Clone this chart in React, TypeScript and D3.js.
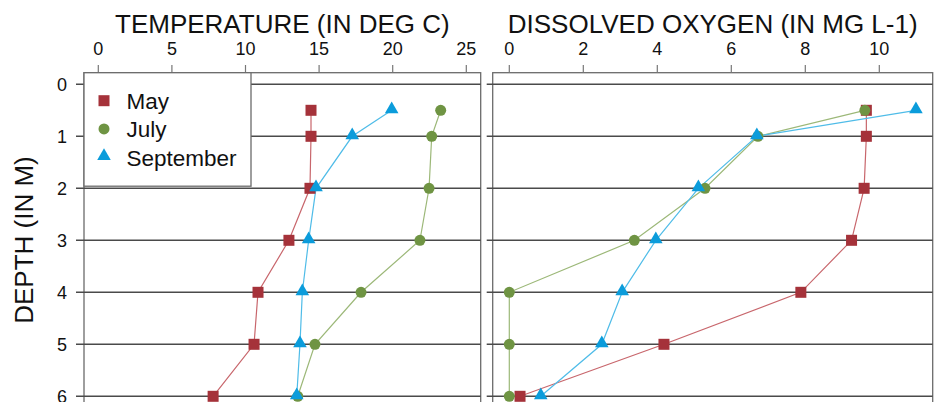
import React, { useEffect, useRef } from "react";
import * as d3 from "d3";

// depths (m) at which samples were taken
const depths = [0.5, 1, 2, 3, 4, 5, 6];

// temperature (deg C)
const tempMay = [14.45, 14.45, 14.38, 12.95, 10.85, 10.58, 7.8];
const tempJuly = [23.26, 22.65, 22.47, 21.85, 17.85, 14.72, 13.55];
const tempSep = [19.93, 17.25, 14.79, 14.29, 13.86, 13.7, 13.48];

// dissolved oxygen (mg/L)
const oxMay = [9.65, 9.65, 9.59, 9.25, 7.88, 4.18, 0.29];
const oxJuly = [9.61, 6.72, 5.29, 3.38, 0, 0, 0];
const oxSep = [10.99, 6.69, 5.11, 3.96, 3.05, 2.5, 0.85];

const depthTicks = [0, 1, 2, 3, 4, 5, 6];
const tempTicks = [0, 5, 10, 15, 20, 25];
const oxTicks = [0, 2, 4, 6, 8, 10];

const seriesNames = ["May", "July", "September"];

const colors: Record<string, string> = {
  May: "#a5323a",
  July: "#6f9443",
  September: "#0b9cdb",
};
const lineColors: Record<string, string> = {
  May: "#c8666c",
  July: "#9cb878",
  September: "#4fbce8",
};

type Pt = { d: number; v: number };

const W = 939;
const H = 402;
const FONT = "'Liberation Sans', Arial, Helvetica, sans-serif";

const App = () => {
  const ref = useRef<SVGSVGElement>(null);

  useEffect(() => {
    const svg = d3.select(ref.current);
    svg.selectAll("*").remove();

    const y = d3.scaleLinear().domain([0, 6]).range([84.3, 396.3]);

    const panels = [
      {
        title: "TEMPERATURE (IN DEG C)",
        left: 84,
        right: 480.7,
        x: d3.scaleLinear().domain([0, 25]).range([98.3, 466.3]),
        ticks: tempTicks,
        series: [tempMay, tempJuly, tempSep],
        yLabels: true,
      },
      {
        title: "DISSOLVED OXYGEN (IN MG L-1)",
        left: 492.7,
        right: 932.7,
        x: d3.scaleLinear().domain([0, 10]).range([509.3, 879.3]),
        ticks: oxTicks,
        series: [oxMay, oxJuly, oxSep],
        yLabels: false,
      },
    ];

    const top = 72.7;
    const bottom = 430;

    panels.forEach((p) => {
      const g = svg.append("g");

      // panel background + border
      g.append("rect")
        .attr("x", p.left)
        .attr("y", top)
        .attr("width", p.right - p.left)
        .attr("height", bottom - top)
        .attr("fill", "#fff")
        .attr("stroke", "#6b6b6b")
        .attr("stroke-width", 1.3);

      // horizontal grid lines at each depth
      g.selectAll(".grid")
        .data(depthTicks)
        .enter()
        .append("line")
        .attr("x1", p.left - (p.yLabels ? 8 : 6))
        .attr("x2", p.right)
        .attr("y1", (d) => y(d))
        .attr("y2", (d) => y(d))
        .attr("stroke", "#4a4a4a")
        .attr("stroke-width", 1.4);

      if (p.yLabels) {
        g.selectAll(".ylab")
          .data(depthTicks)
          .enter()
          .append("text")
          .attr("x", 67)
          .attr("y", (d) => y(d) + 6.5)
          .attr("text-anchor", "end")
          .attr("font-family", FONT)
          .attr("font-size", 18)
          .attr("fill", "#111")
          .text((d) => d);
      }

      // top axis
      g.selectAll(".xtick")
        .data(p.ticks)
        .enter()
        .append("line")
        .attr("x1", (d) => p.x(d))
        .attr("x2", (d) => p.x(d))
        .attr("y1", 65)
        .attr("y2", top)
        .attr("stroke", "#777")
        .attr("stroke-width", 1.2);
      g.selectAll(".xlab")
        .data(p.ticks)
        .enter()
        .append("text")
        .attr("x", (d) => p.x(d))
        .attr("y", 55)
        .attr("text-anchor", "middle")
        .attr("font-family", FONT)
        .attr("font-size", 18)
        .attr("fill", "#111")
        .text((d) => d);

      g.append("text")
        .attr("x", (p.left + p.right) / 2)
        .attr("y", 33)
        .attr("text-anchor", "middle")
        .attr("font-family", FONT)
        .attr("font-size", 26)
        .attr("fill", "#111")
        .text(p.title);

      // series
      p.series.forEach((vals, i) => {
        const name = seriesNames[i];
        const pts: Pt[] = depths.map((d, j) => ({ d, v: vals[j] }));
        const line = d3
          .line<Pt>()
          .x((q) => p.x(q.v))
          .y((q) => y(q.d));
        g.append("path")
          .datum(pts)
          .attr("fill", "none")
          .attr("stroke", lineColors[name])
          .attr("stroke-width", 1.2)
          .attr("d", line);
      });
      p.series.forEach((vals, i) => {
        const name = seriesNames[i];
        const pts: Pt[] = depths.map((d, j) => ({ d, v: vals[j] }));
        drawMarkers(g, pts, name, (q) => p.x(q.v), (q) => y(q.d));
      });
    });

    // legend
    const lg = svg.append("g");
    lg.append("rect")
      .attr("x", 84)
      .attr("y", 72.7)
      .attr("width", 167)
      .attr("height", 113.5)
      .attr("fill", "#fff")
      .attr("stroke", "#6b6b6b")
      .attr("stroke-width", 1.3);
    seriesNames.forEach((name, i) => {
      const cy = 100.7 + i * 28.2;
      drawMarkers(lg, [{ d: 0, v: 0 }], name, () => 104, () => cy);
      lg.append("text")
        .attr("x", 126.5)
        .attr("y", cy + 8.5)
        .attr("font-family", FONT)
        .attr("font-size", 22.5)
        .attr("fill", "#111")
        .text(name);
    });

    // y axis title
    svg
      .append("text")
      .attr("transform", "translate(33,240) rotate(-90)")
      .attr("text-anchor", "middle")
      .attr("font-family", FONT)
      .attr("font-size", 26)
      .attr("fill", "#111")
      .text("DEPTH (IN M)");
  }, []);

  return (
    <svg
      ref={ref}
      width={W}
      height={H}
      style={{ position: "absolute", left: 0, top: 0, background: "#fff" }}
    />
  );
};

function drawMarkers(
  g: d3.Selection<SVGGElement, unknown, null, undefined>,
  pts: Pt[],
  name: string,
  fx: (q: Pt) => number,
  fy: (q: Pt) => number
) {
  const c = colors[name];
  if (name === "May") {
    g.selectAll(null)
      .data(pts)
      .enter()
      .append("rect")
      .attr("x", (q) => fx(q) - 5.5)
      .attr("y", (q) => fy(q) - 5.5)
      .attr("width", 11)
      .attr("height", 11)
      .attr("fill", c);
  } else if (name === "July") {
    g.selectAll(null)
      .data(pts)
      .enter()
      .append("circle")
      .attr("cx", fx)
      .attr("cy", fy)
      .attr("r", 5.5)
      .attr("fill", c);
  } else {
    const tri = d3.symbol().type(d3.symbolTriangle).size(80);
    g.selectAll(null)
      .data(pts)
      .enter()
      .append("path")
      .attr("transform", (q) => `translate(${fx(q)},${fy(q) - 1})`)
      .attr("d", tri)
      .attr("fill", c);
  }
}

export default App;
